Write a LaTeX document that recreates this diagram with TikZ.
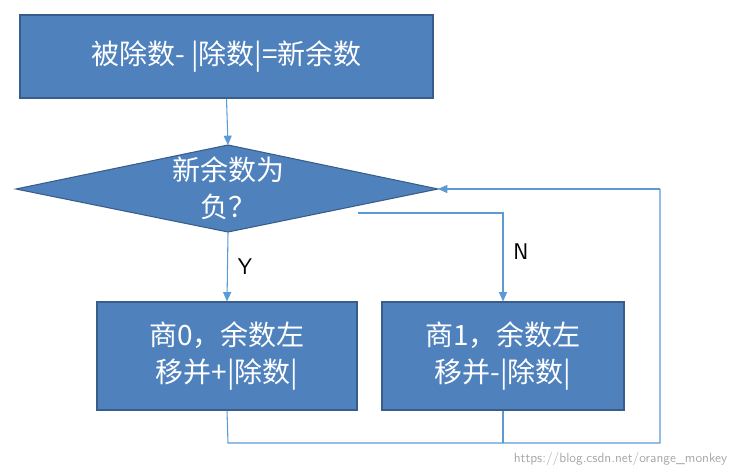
\documentclass[tikz,border=0pt]{standalone}
\usepackage{fontspec}
\setmainfont{Noto Sans CJK SC}
\usetikzlibrary{shapes.geometric,arrows.meta}
\definecolor{boxfill}{RGB}{79,129,189}
\definecolor{boxline}{RGB}{56,93,138}
\definecolor{lineblue}{RGB}{91,155,213}
\tikzset{
  box/.style={draw=boxline,fill=boxfill,line width=0.8pt,text=white,align=center,font=\fontsize{21}{28}\selectfont},
  conn/.style={draw=lineblue,line width=0.8pt},
  arr/.style={conn,-{Triangle[length=7pt,width=6pt]}},
  lbl/.style={font=\fontsize{17}{20}\selectfont\sffamily,text=black}
}
\begin{document}
\begin{tikzpicture}[x=0.75pt,y=-0.75pt]
\useasboundingbox (0,0) rectangle (738,474);
\node[box,minimum width=413*0.75pt,minimum height=83*0.75pt] (top) at (226.5,56.5) {被除数- |除数|=新余数};
\draw[draw=boxline,fill=boxfill,line width=0.8pt] (16,189) -- (228,145) -- (438,189) -- (228,232) -- cycle;
\coordinate (dtop) at (228,145);
\coordinate (dbot) at (228,232);
\coordinate (dright) at (438,189);
\coordinate (dn) at (358,213);
\node[text=white,align=center,font=\fontsize{21}{28}\selectfont] (dtext) at (228,188) {新余数为\\负？};
\node[box,minimum width=260*0.75pt,minimum height=108*0.75pt] (yes) at (227,356) {商0，余数左\\移并+|除数|};
\node[box,minimum width=242*0.75pt,minimum height=108*0.75pt] (no) at (503,356) {商1，余数左\\移并-|除数|};
\draw[arr] (top.south) -- (dtop);
\draw[arr] (dbot) -- (yes.north) node[lbl,pos=0.5,right=4pt] {Y};
\draw[arr] (dn) -| (no.north) node[lbl,pos=0.72,right=4pt] {N};
\coordinate (c1) at (228,443);
\coordinate (c2) at (660,443);
\coordinate (c3) at (660,189);
\draw[conn] (yes.south) -- (c1) -- (c2) -- (c3);
\draw[arr] (c3) -- (dright);
\draw[conn] (no.south) -- (503,443);
\node[text=gray!70,font=\fontsize{10}{12}\selectfont\sffamily,anchor=east] (wm) at (732,459) {https://blog.csdn.net/orange\_monkey};
\end{tikzpicture}
\end{document}
